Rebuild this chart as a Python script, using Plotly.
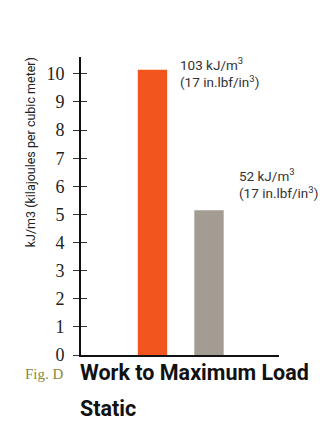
import plotly.graph_objects as go

categories = ["Sample A", "Sample B"]
values = [10.15, 5.15]
bar_colors = ["#F2561E", "#A29C93"]
value_labels = ["103 kJ/m<sup>3</sup><br>(17 in.lbf/in<sup>3</sup>)",
                "52 kJ/m<sup>3</sup><br>(17 in.lbf/in<sup>3</sup>)"]
y_ticks = list(range(0, 11))

cond = "Roboto, Liberation Sans Narrow, sans-serif"
serif = "Liberation Serif, DejaVu Serif, serif"

fig = go.Figure()
fig.add_trace(go.Bar(x=categories, y=values, marker=dict(color=bar_colors, line=dict(width=0)),
                     width=0.52, hoverinfo="skip", showlegend=False))

# value labels
offsets = [(26, 17), (28, 46)]
for i, (c, v, t) in enumerate(zip(categories, values, value_labels)):
    fig.add_annotation(x=c, y=v, text=t, showarrow=False, xanchor="left", yanchor="top",
                       xshift=offsets[i][0], yshift=offsets[i][1], align="left",
                       font=dict(family=cond, size=13.5, color="#333333"))

fig.update_layout(
    width=323, height=428,
    margin=dict(l=73, r=52, t=49, b=81),
    paper_bgcolor="#FFFFFF", plot_bgcolor="#FFFFFF",
    xaxis=dict(range=[-1.265, 2.239], showticklabels=False, ticks="", showgrid=False,
               zeroline=False, showline=True, linecolor="#111111", linewidth=2),
    yaxis=dict(range=[0, 10.6], tickvals=y_ticks, ticks="outside", ticklen=6, tickwidth=1,
               tickcolor="#333333", showgrid=False, zeroline=False, showline=True,
               linecolor="#111111", linewidth=2,
               tickfont=dict(family=serif, size=18, color="#222222"), ticklabelstandoff=5),
    yaxis2=dict(range=[0, 10.6], tickvals=y_ticks, ticks="inside", ticklen=6, tickwidth=1,
                tickcolor="#333333", overlaying="y", side="left", showticklabels=False,
                showgrid=False, zeroline=False, showline=False),
)
# invisible trace so the inner tick marks of yaxis2 are drawn
fig.add_trace(go.Scatter(x=[categories[0]], y=[0], yaxis="y2", mode="markers",
                         marker=dict(opacity=0), hoverinfo="skip", showlegend=False))

fig.add_annotation(xref="paper", yref="paper", x=-0.258, y=0.68, text="kJ/m3 (kilajoules per cubic meter)",
                   textangle=-90, showarrow=False, xanchor="center", yanchor="middle",
                   font=dict(family=cond, size=12.5, color="#222222"))

fig.add_annotation(xref="paper", yref="paper", x=-0.292, y=-0.064, text="Fig. D", showarrow=False,
                   xanchor="left", yanchor="middle",
                   font=dict(family=serif, size=15, color="#8A8A3E"))
fig.add_annotation(xref="paper", yref="paper", x=-0.015, y=-0.060, text="<b>Work to Maximum Load</b>",
                   showarrow=False, xanchor="left", yanchor="middle",
                   font=dict(family=cond, size=21.5, color="#111111"))
fig.add_annotation(xref="paper", yref="paper", x=-0.015, y=-0.18, text="<b>Static</b>",
                   showarrow=False, xanchor="left", yanchor="middle",
                   font=dict(family=cond, size=21.5, color="#111111"))

fig.write_html("out.html")
